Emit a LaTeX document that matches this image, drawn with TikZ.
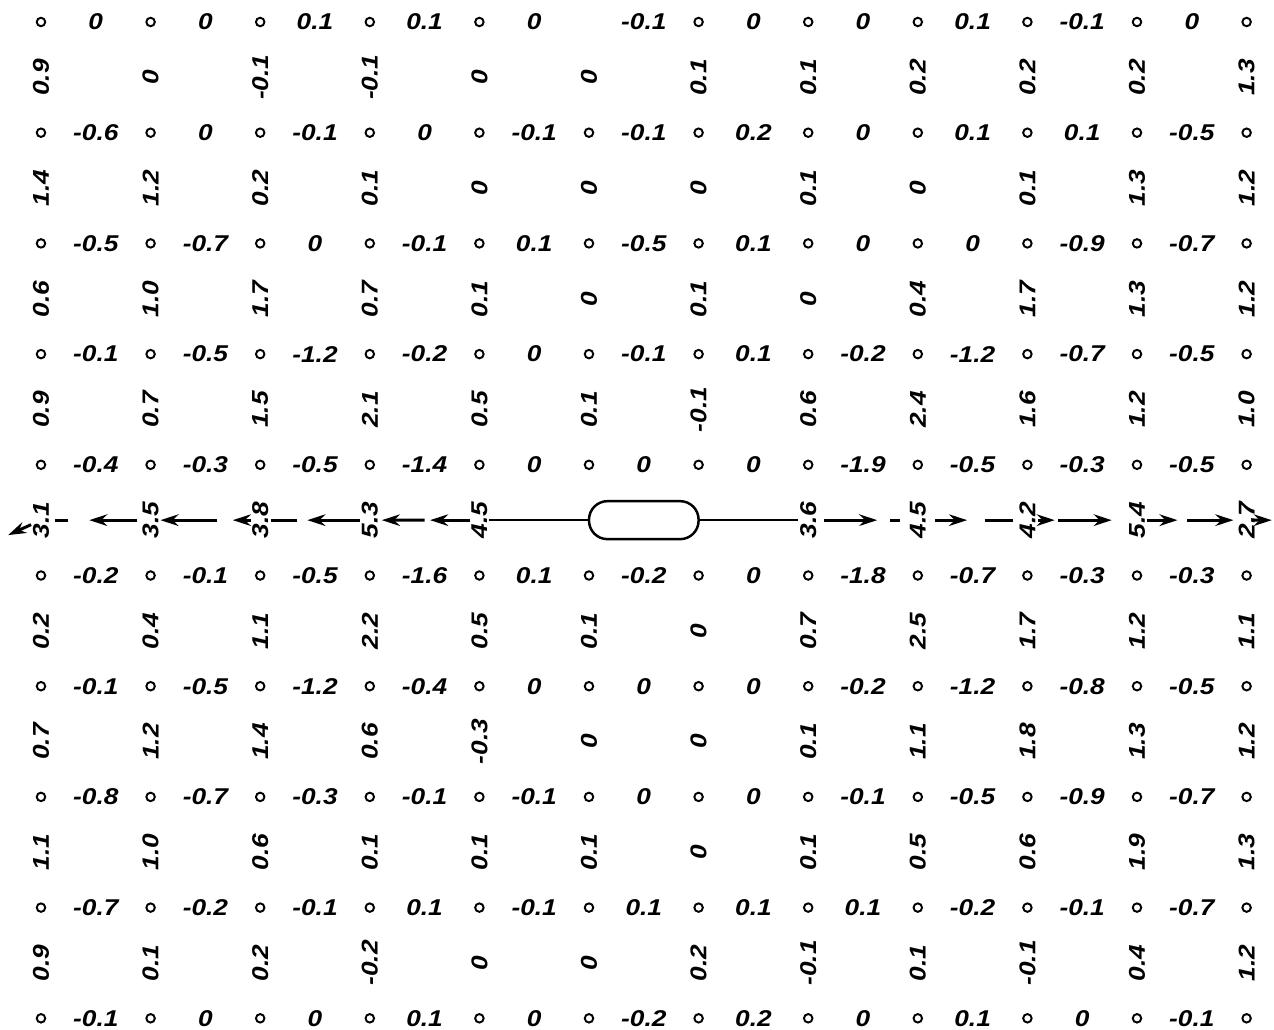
\documentclass[tikz,border=0pt]{standalone}
\usepackage{fontspec}
\newfontfamily\lettering[FakeStretch=1.15]{Liberation Sans}
\usetikzlibrary{arrows.meta, calc}

\begin{document}
\begin{tikzpicture}[x=2.192cm, y=-1.107cm, >={Stealth[length=3.6mm, width=2.3mm]},
		num/.style={font=\fontsize{13}{14}\lettering\bfseries\itshape, inner sep=1pt},
		vnum/.style={num, rotate=90},
		dot/.style={draw, circle, line width=1.1pt, minimum size=1.7mm, inner sep=0pt},
		pill/.style={draw, line width=1.4pt, rounded corners=3.7mm, minimum width=2.192cm, minimum height=7.6mm},
		flow/.style={->, line width=1.7pt},
		gapline/.style={line width=1.7pt}]
	\useasboundingbox (-0.374,-0.3975) rectangle (11.25,18.211);

	% grid points
	\foreach \i in {0,1,2,3,4,6,7,8,9,10,11}
		\node[dot] (c1-\i) at (\i,0) {};
	\foreach \j in {2,...,10}
		\foreach \i in {0,...,11}
			\node[dot] (c\j-\i) at (\i,2*\j-2) {};

	% values between the points
	\foreach \row [count=\j] in {
			{0,0,0.1,0.1,0,-0.1,0,0,0.1,-0.1,0},
			{-0.6,0,-0.1,0,-0.1,-0.1,0.2,0,0.1,0.1,-0.5},
			{-0.5,-0.7,0,-0.1,0.1,-0.5,0.1,0,0,-0.9,-0.7},
			{-0.1,-0.5,-1.2,-0.2,0,-0.1,0.1,-0.2,-1.2,-0.7,-0.5},
			{-0.4,-0.3,-0.5,-1.4,0,0,0,-1.9,-0.5,-0.3,-0.5},
			{-0.2,-0.1,-0.5,-1.6,0.1,-0.2,0,-1.8,-0.7,-0.3,-0.3},
			{-0.1,-0.5,-1.2,-0.4,0,0,0,-0.2,-1.2,-0.8,-0.5},
			{-0.8,-0.7,-0.3,-0.1,-0.1,0,0,-0.1,-0.5,-0.9,-0.7},
			{-0.7,-0.2,-0.1,0.1,-0.1,0.1,0.1,0.1,-0.2,-0.1,-0.7},
			{-0.1,0,0,0.1,0,-0.2,0.2,0,0.1,0,-0.1}}
		\foreach \val [count=\i] in \row
			\node[num] (h\j-\i) at (\i-0.5,2*\j-2) {\val};

	% values at the points
	\foreach \row [count=\j] in {
			{0.9,0,-0.1,-0.1,0,0,0.1,0.1,0.2,0.2,0.2,1.3},
			{1.4,1.2,0.2,0.1,0,0,0,0.1,0,0.1,1.3,1.2},
			{0.6,1.0,1.7,0.7,0.1,0,0.1,0,0.4,1.7,1.3,1.2},
			{0.9,0.7,1.5,2.1,0.5,0.1,-0.1,0.6,2.4,1.6,1.2,1.0}}
		\foreach \val [count=\i] in \row
			\node[vnum] (v\j-\i) at (\i-1,2*\j-1) {\val};
	\foreach \row [count=\j from 6] in {
			{0.2,0.4,1.1,2.2,0.5,0.1,0,0.7,2.5,1.7,1.2,1.1},
			{0.7,1.2,1.4,0.6,-0.3,0,0,0.1,1.1,1.8,1.3,1.2},
			{1.1,1.0,0.6,0.1,0.1,0.1,0,0.1,0.5,0.6,1.9,1.3},
			{0.9,0.1,0.2,-0.2,0,0,0.2,-0.1,0.1,-0.1,0.4,1.2}}
		\foreach \val [count=\i] in \row
			\node[vnum] (v\j-\i) at (\i-1,2*\j-1) {\val};

	% middle row
	\foreach \val/\i in {3.1/1,3.5/2,3.8/3,5.3/4,4.5/5,3.6/8,4.5/9,4.2/10,5.4/11,2.7/12}
		\node[vnum] (v5-\i) at (\i-1,9) {\val};
	\node[pill] (probe) at (5.5,9) {};
	\coordinate (left-end) at (-0.3,9.27);
	\coordinate (right-end) at (11.23,9);

	\draw[line width=1.2pt] (v5-5) -- (probe);
	\draw[line width=1.2pt] (probe) -- (v5-8);

	% flow to the left
	\draw[flow] ($(v5-5)!0.09!(v5-4)$) -- ($(v5-5)!0.45!(v5-4)$);
	\draw[flow] ($(v5-5)!0.50!(v5-4)$) -- ($(v5-5)!0.89!(v5-4)$);
	\draw[flow] ($(v5-4)!0.09!(v5-3)$) -- ($(v5-4)!0.57!(v5-3)$);
	\draw[gapline] ($(v5-4)!0.66!(v5-3)$) -- ($(v5-4)!0.90!(v5-3)$);
	\draw[flow] ($(v5-3)!0.08!(v5-2)$) -- ($(v5-3)!0.25!(v5-2)$);
	\draw[flow] ($(v5-3)!0.39!(v5-2)$) -- ($(v5-3)!0.91!(v5-2)$);
	\draw[flow] ($(v5-2)!0.12!(v5-1)$) -- ($(v5-2)!0.56!(v5-1)$);
	\draw[gapline] ($(v5-2)!0.75!(v5-1)$) -- ($(v5-2)!0.87!(v5-1)$);
	\draw[flow] ($(v5-1)!0.3!(left-end)$) -- (left-end);

	% flow to the right
	\draw[flow] ($(v5-8)!0.14!(v5-9)$) -- ($(v5-8)!0.63!(v5-9)$);
	\draw[gapline] ($(v5-8)!0.75!(v5-9)$) -- ($(v5-8)!0.84!(v5-9)$);
	\draw[flow] ($(v5-9)!0.16!(v5-10)$) -- ($(v5-9)!0.45!(v5-10)$);
	\draw[gapline] ($(v5-9)!0.61!(v5-10)$) -- ($(v5-9)!0.87!(v5-10)$);
	\draw[flow] ($(v5-10)!0.10!(v5-11)$) -- ($(v5-10)!0.25!(v5-11)$);
	\draw[flow] ($(v5-10)!0.28!(v5-11)$) -- ($(v5-10)!0.77!(v5-11)$);
	\draw[flow] ($(v5-11)!0.09!(v5-12)$) -- ($(v5-11)!0.37!(v5-12)$);
	\draw[flow] ($(v5-11)!0.46!(v5-12)$) -- ($(v5-11)!0.88!(v5-12)$);
	\draw[flow] ($(v5-12)!0.25!(right-end)$) -- (right-end);
\end{tikzpicture}
\end{document}
